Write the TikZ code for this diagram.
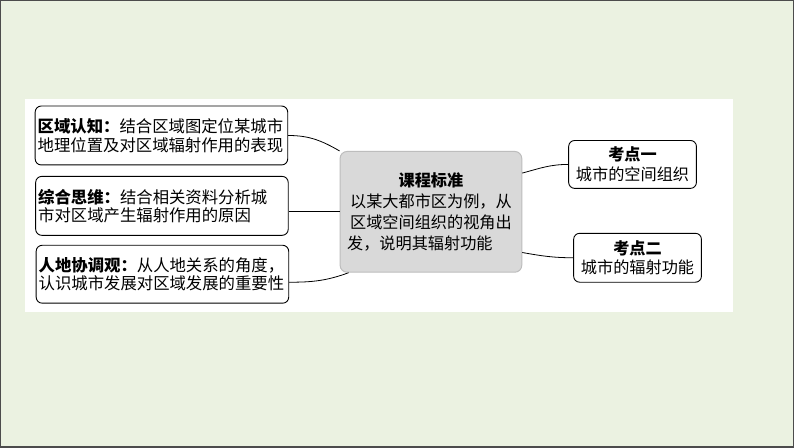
\documentclass[tikz,border=0pt]{standalone}
\usepackage{fontspec}
\setmainfont{Noto Sans CJK SC}
\usepackage{tikz}
\usetikzlibrary{shapes.geometric, arrows, calc}
\definecolor{pagebg}{HTML}{EBF2E1}
\definecolor{stdfill}{HTML}{D9D9D9}
\definecolor{stdline}{HTML}{BDBDBD}
\tikzstyle{aspect} = [rectangle, rounded corners=6pt, minimum width=253pt, minimum height=59pt, text width=248pt, align=left, inner sep=2.5pt, draw=black, line width=0.9pt, fill=white, font=\fontsize{16.4}{18.5}\selectfont]
\tikzstyle{standard} = [rectangle, rounded corners=7pt, minimum width=182pt, minimum height=121pt, text width=168pt, align=left, draw=stdline, line width=1pt, fill=stdfill, font=\fontsize{16.2}{21}\selectfont]
\tikzstyle{point} = [rectangle, rounded corners=6pt, minimum width=128pt, minimum height=48pt, align=center, draw=black, line width=0.9pt, fill=white, font=\fontsize{16.2}{20}\selectfont]
\tikzstyle{link} = [line width=0.8pt]

\begin{document}
\begin{tikzpicture}[x=1pt, y=1pt]
        \fill [pagebg] (0,0) rectangle (794,-447);
        \draw [black!70, line width=1.5pt] (0,0) rectangle (794,-447);
        \fill [white] (24,-98) rectangle (734,-312);
        \node (region) [aspect] at (161,-135) {\textbf{区域认知：}结合区域图定位某城市\\地理位置及对区域辐射作用的表现};
        \node (synth) [aspect] at (161.5,-205.5) {\textbf{综合思维：}结合相关资料分析城\\市对区域产生辐射作用的原因};
        \node (harmony) [aspect, minimum height=58pt] at (162,-274) {\textbf{人地协调观：}从人地关系的角度，\\认识城市发展对区域发展的重要性};
        \node (std) [standard] at (431,-211.5) {\centering\textbf{课程标准}\par 以某大都市区为例，从\\区域空间组织的视角出\\发，说明其辐射功能};
        \node (kp1) [point] at (633,-164) {\textbf{考点一}\\城市的空间组织};
        \node (kp2) [point, minimum height=49pt] at (638,-257.5) {\textbf{考点二}\\城市的辐射功能};
        \draw [link] (region.east) to[out=0, in=150] (std.north west);
        \draw [link] (std.west) -- (std.west -| synth.east);
        \draw [link] ($(harmony.east)+(0,-8)$) to[out=0, in=200] ($(std.south west)+(9,0)$);
        \draw [link] (std.23) to[out=15, in=180] (kp1.west);
        \draw [link] (std.-24) to[out=-10, in=180] (kp2.west);
    \end{tikzpicture}
\end{document}
